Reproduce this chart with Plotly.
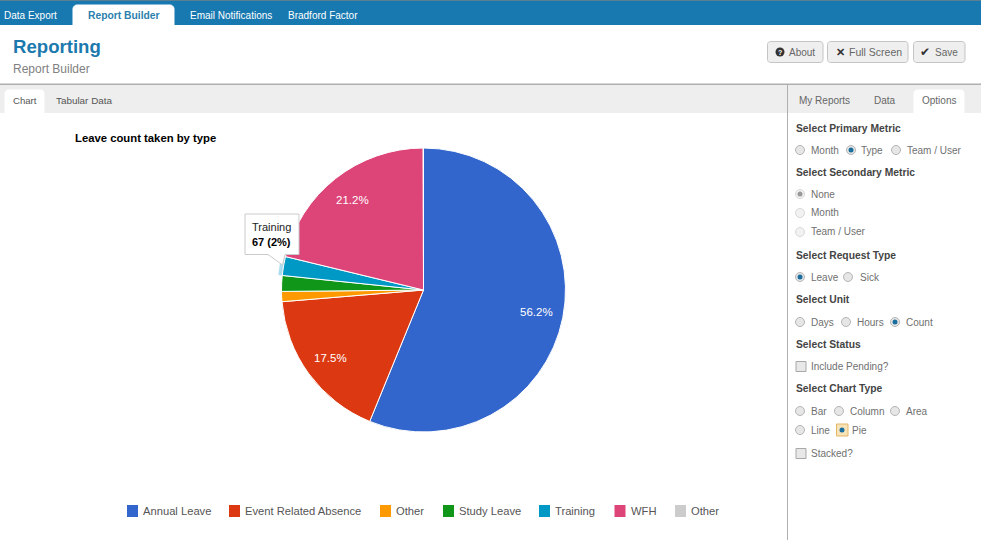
import math
import plotly.graph_objects as go

W, H = 981, 540

# ---- chart data ----
labels = ["Annual Leave", "Event Related Absence", "Other", "Study Leave", "Training", "WFH", "Other "]
values = [1753, 546, 36, 56, 67, 661, 1]
colors = ["#3366CC", "#DC3912", "#FF9900", "#109618", "#0099C6", "#DD4477", "#CCCCCC"]
labelled = ["Annual Leave", "Event Related Absence", "WFH"]
chart_title = "Leave count taken by type"
tooltip_name = "Training"
tooltip_value = "67 (2%)"

# ---- page text ----
top_tabs = ["Data Export", "Report Builder", "Email Notifications", "Bradford Factor"]
top_tab_x = [4, 88, 190, 288]

FONT = "Liberation Sans, Arial, sans-serif"
DARK = "#444444"
GREY = "#666666"

shapes, annos = [], []


def X(p):
    return p / W


def Y(p):
    return 1 - p / H


def rect(x0, y0, x1, y1, fill, line=None, lw=1):
    shapes.append(dict(type="rect", xref="paper", yref="paper", x0=X(x0), x1=X(x1), y0=Y(y0), y1=Y(y1),
                       fillcolor=fill, line=dict(color=line or fill, width=lw if line else 0), layer="below"))


def path_px(points, fill, line, lw=1, layer="above"):
    d = "M" + "L".join(f"{X(a):.5f},{Y(b):.5f}" for a, b in points) + "Z"
    shapes.append(dict(type="path", xref="paper", yref="paper", path=d, fillcolor=fill,
                       line=dict(color=line, width=lw), layer=layer))


def rounded(x0, y0, x1, y1, r, fill, line, lw=1, top_only=False):
    pts = []
    n = 5
    corners = [(x1 - r, y0 + r, -90), (x1 - r, y1 - r, 0), (x0 + r, y1 - r, 90), (x0 + r, y0 + r, 180)]
    for i, (cx, cy, a0) in enumerate(corners):
        if top_only and i in (1, 2):
            pts.append((x1 if i == 1 else x0, y1))
            continue
        for k in range(n + 1):
            a = math.radians(a0 + 90 * k / n)
            pts.append((cx + r * math.cos(a), cy + r * math.sin(a)))
    path_px(pts, fill, line, lw, layer="below")


def text(x, y, s, size=11, color=GREY, bold=False, anchor="left"):
    annos.append(dict(xref="paper", yref="paper", x=X(x), y=Y(y), text=f"<b>{s}</b>" if bold else s,
                      showarrow=False, xanchor=anchor, yanchor="middle", borderpad=0, borderwidth=0,
                      font=dict(family=FONT, size=size, color=color)))


def radio(x, y, on=False, faded=False):
    shapes.append(dict(type="circle", xref="paper", yref="paper", x0=X(x - 4.5), x1=X(x + 4.5), y0=Y(y + 4.5), y1=Y(y - 4.5),
                       fillcolor="#f2f2f2" if faded else "#e6e6e6",
                       line=dict(color="#d8d8d8" if faded else "#b5b5b5", width=1), layer="below"))
    if on:
        shapes.append(dict(type="circle", xref="paper", yref="paper", x0=X(x - 2.5), x1=X(x + 2.5), y0=Y(y + 2.5), y1=Y(y - 2.5),
                           fillcolor=on, line=dict(width=0), layer="above"))


def check(x, y):
    rect(x, y - 5, x + 10, y + 5, "#e8e8e8", "#a8a8a8")


# ---- page chrome ----
rect(0, 0, W, 25, "#1879B0")
rect(0, 0, W, 1, "#5a7f94")
rounded(73, 5, 174, 26, 4, "#ffffff", "#ffffff", top_only=True)
for i, (t, x) in enumerate(zip(top_tabs, top_tab_x)):
    if i == 1:
        text(x, 15, t, 10.3, "#2B7FAE", True)
    else:
        text(x, 15, t, 10, "#ffffff")
text(13, 47, "Reporting", 18.6, "#1B79AE", True)
text(13, 69, "Report Builder", 12, "#808080")

rect(0, 85, W, 113, "#EEEEEE")
rect(788, 113, W, H, "#ffffff")
rect(0, 83.5, W, 85, "#AFAFAF")
rect(787, 85, 788, H, "#AFAFAF")
rounded(5, 90, 44, 114, 3, "#ffffff", "#ffffff", top_only=True)
rounded(914, 90, 964, 114, 3, "#ffffff", "#ffffff", top_only=True)
text(13, 101, "Chart", 9.6, "#555555")
text(56, 101, "Tabular Data", 9.9, "#555555")
text(799, 101, "My Reports", 10, GREY)
text(874, 101, "Data", 10, GREY)
text(922, 101, "Options", 10, GREY)

for x0, x1 in [(767, 823), (827, 908), (913, 965)]:
    rounded(x0 + 0.5, 41.5, x1, 62.5, 3, "#EFEFEF", "#C4C4C4")
shapes.append(dict(type="circle", xref="paper", yref="paper", x0=X(775.5), x1=X(784.5), y0=Y(56.5), y1=Y(47.5),
                   fillcolor="#333333", line=dict(width=0), layer="above"))
text(780, 52, "?", 7, "#ffffff", True, "center")
text(789, 52, "About", 10, GREY)
text(840.5, 52, "✕", 11, "#333333", True, "center")
text(849, 52, "Full Screen", 10.5, GREY)
text(925, 52, "✔", 12, "#333333", False, "center")
text(935, 52, "Save", 10, GREY)

# ---- options panel ----
for y, t in [(128, "Select Primary Metric"), (172.5, "Select Secondary Metric"), (255, "Select Request Type"),
             (299.5, "Select Unit"), (344, "Select Status"), (388.5, "Select Chart Type")]:
    text(796, y, t, 10.3, DARK, True)

on = "#1A6E9E"
for rx, tx, y, t, state, faded in [
    (800, 811, 150, "Month", False, False), (851, 861, 150, "Type", on, False), (896, 907, 150, "Team / User", False, False),
    (800, 811, 194, "None", "#999999", True), (800, 811, 213, "Month", False, True), (800, 811, 232, "Team / User", False, True),
    (800, 811, 277, "Leave", on, False), (848, 860, 277, "Sick", False, False),
    (800, 811, 322, "Days", False, False), (846, 857, 322, "Hours", False, False), (895, 906, 322, "Count", on, False),
    (800, 811, 411, "Bar", False, False), (839, 850, 411, "Column", False, False), (895, 906, 411, "Area", False, False),
    (800, 811, 430, "Line", False, False), (842, 852, 430, "Pie", on, False),
]:
    radio(rx, y, state, faded)
    text(tx, y, t, 10, "#707070")
rect(836.5, 424, 848, 436, "#F7E3B8", "#E5B566")
shapes.append(shapes.pop(-1) | dict(layer="below"))
check(796, 366.5)
check(796, 453.5)
text(811, 366, "Include Pending?", 10, "#707070")
text(811, 453, "Stacked?", 10, "#707070")

# ---- chart title & legend ----
text(75, 137.5, chart_title, 11.3, "#000000", True)
legend_swatch_x = [127, 229, 380, 443, 539, 614.5, 675]
for sx, lab, col in zip(legend_swatch_x, labels, colors):
    rect(sx, 505, sx + 11, 517, col)
    text(sx + 16, 511, lab.strip(), 11.2, "#555555")

# ---- tooltip ----
path_px([(245, 214), (299, 214), (299, 254.5), (285, 254.5), (282.5, 265), (268, 254.5), (245, 254.5)], "#ffffff", "#CCCCCC")
text(252, 227, tooltip_name, 11, "#222222")
text(252, 242, tooltip_value, 11, "#000000", True)

# ---- pies ----
CX, CY, R = 423.5, 290, 142
fig = go.Figure()
HALO = 146
fig.add_trace(go.Pie(
    labels=labels, values=values, sort=False, direction="clockwise", rotation=0,
    domain=dict(x=[X(CX - HALO), X(CX + HALO)], y=[Y(CY + HALO), Y(CY - HALO)]),
    marker=dict(colors=["rgba(0,0,0,0)" if l != tooltip_name else "#A9DCEF" for l in labels], line=dict(width=0)),
    textinfo="none", hoverinfo="skip", showlegend=False))
fig.add_trace(go.Pie(
    labels=labels, values=values, sort=False, direction="clockwise", rotation=0,
    domain=dict(x=[X(CX - R), X(CX + R)], y=[Y(CY + R), Y(CY - R)]),
    marker=dict(colors=colors, line=dict(color="#ffffff", width=1)),
    textinfo="none", showlegend=False))

# percentage labels sit on each slice's bisector, derived from the values
total = sum(values)
running = 0
for lab, val in zip(labels, values):
    mid = (running + val / 2) / total * 2 * math.pi
    running += val
    if lab in labelled:
        text(CX + 0.81 * R * math.sin(mid), CY - 0.81 * R * math.cos(mid), f"{val / total:.1%}", 11.5, "#ffffff", False, "center")

fig.update_layout(width=W, height=H, margin=dict(l=0, r=0, t=0, b=0), paper_bgcolor="#ffffff",
                  shapes=shapes, annotations=annos, font=dict(family=FONT), showlegend=False)
fig.write_html("out.html", config=dict(displayModeBar=False),
               post_script="document.body.style.margin='0';")
